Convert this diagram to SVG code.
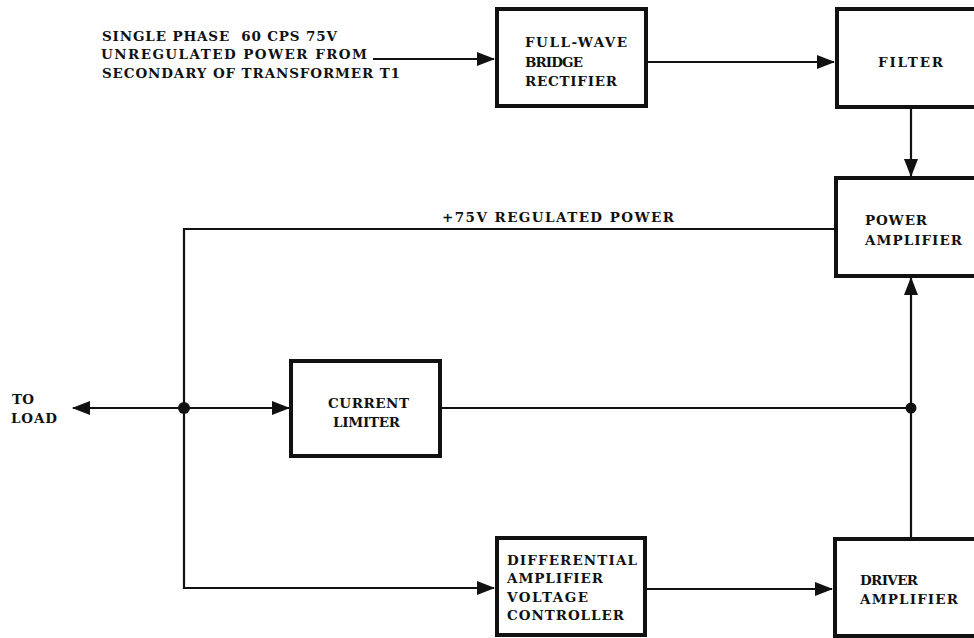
<svg xmlns="http://www.w3.org/2000/svg" width="974" height="638" viewBox="0 0 974 638">
<defs>
<style>
.box{fill:#fff;stroke:#111;stroke-width:4}
.ln{fill:none;stroke:#111;stroke-width:2.2}
text{font-family:"DejaVu Serif","Liberation Serif",serif;font-weight:bold;font-size:13.5px;fill:#111;white-space:pre}
</style>
<marker id="ah" viewBox="0 0 18 14" refX="17" refY="7" markerWidth="18" markerHeight="14" markerUnits="userSpaceOnUse" orient="auto-start-reverse">
<path d="M0,0 L18,7 L0,14 Z" fill="#111"/>
</marker>
</defs>
<rect width="974" height="638" fill="#fff"/>
<g id="connectors">
<path class="ln" d="M373,59 L494,59" marker-end="url(#ah)"/>
<path class="ln" d="M647,62 L834,62" marker-end="url(#ah)"/>
<path class="ln" d="M911,108 L911,176" marker-end="url(#ah)"/>
<path class="ln" d="M835,229 L184,229 L184,588 L494,588" marker-end="url(#ah)"/>
<path class="ln" d="M184,408 L73,408" marker-end="url(#ah)"/>
<path class="ln" d="M184,408 L289,408" marker-end="url(#ah)"/>
<path class="ln" d="M441,408 L911,408"/>
<path class="ln" d="M911,538 L911,278" marker-end="url(#ah)"/>
<path class="ln" d="M646,589 L832,589" marker-end="url(#ah)"/>
<circle cx="184" cy="408" r="6" fill="#111"/>
<circle cx="911" cy="408" r="5.5" fill="#111"/>
</g>
<g id="input-label">
<text x="102" y="41" textLength="235" lengthAdjust="spacing" xml:space="preserve">SINGLE PHASE  60 CPS 75V</text>
<text x="101" y="59" textLength="266" lengthAdjust="spacing">UNREGULATED POWER FROM</text>
<text x="102" y="78" textLength="298" lengthAdjust="spacing">SECONDARY OF TRANSFORMER T1</text>
</g>
<g id="rectifier">
<rect class="box" x="497" y="9" width="149" height="97"/>
<text x="525" y="47" textLength="102" lengthAdjust="spacing">FULL-WAVE</text>
<text x="525" y="67" textLength="58" lengthAdjust="spacing">BRIDGE</text>
<text x="525" y="86" textLength="92" lengthAdjust="spacing">RECTIFIER</text>
</g>
<g id="filter">
<rect class="box" x="837" y="9" width="150" height="98"/>
<text x="878" y="67" textLength="65" lengthAdjust="spacing">FILTER</text>
</g>
<g id="power-amplifier">
<rect class="box" x="836" y="178" width="150" height="98"/>
<text x="865" y="225" textLength="62" lengthAdjust="spacing">POWER</text>
<text x="865" y="245" textLength="97" lengthAdjust="spacing">AMPLIFIER</text>
</g>
<g id="regulated-label">
<text x="442" y="222" textLength="232" lengthAdjust="spacing">+75V REGULATED POWER</text>
</g>
<g id="to-load">
<text x="12" y="404" textLength="22" lengthAdjust="spacing">TO</text>
<text x="11" y="423" textLength="46" lengthAdjust="spacing">LOAD</text>
</g>
<g id="current-limiter">
<rect class="box" x="291" y="361" width="149" height="95"/>
<text x="328" y="408" textLength="81" lengthAdjust="spacing">CURRENT</text>
<text x="333" y="427" textLength="67" lengthAdjust="spacing">LIMITER</text>
</g>
<g id="differential-amplifier">
<rect class="box" x="497" y="538" width="148" height="97"/>
<text x="507" y="565" textLength="130" lengthAdjust="spacing">DIFFERENTIAL</text>
<text x="507" y="583" textLength="96" lengthAdjust="spacing">AMPLIFIER</text>
<text x="507" y="602" textLength="81" lengthAdjust="spacing">VOLTAGE</text>
<text x="507" y="620" textLength="117" lengthAdjust="spacing">CONTROLLER</text>
</g>
<g id="driver-amplifier">
<rect class="box" x="835" y="539" width="150" height="97"/>
<text x="860" y="585" textLength="58" lengthAdjust="spacing">DRIVER</text>
<text x="860" y="604" textLength="98" lengthAdjust="spacing">AMPLIFIER</text>
</g>
</svg>
